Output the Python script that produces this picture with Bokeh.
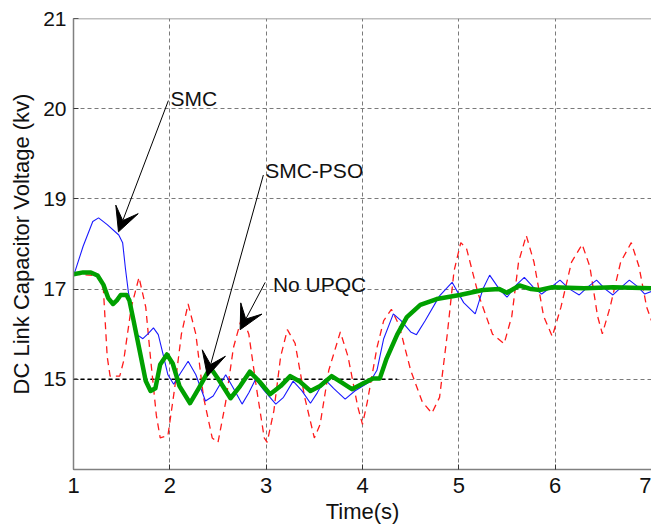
from bokeh.plotting import figure
from bokeh.models import (FixedTicker, Span, Arrow, VeeHead, ColumnDataSource, Range1d)
from bokeh.core.properties import value
from bokeh.embed import file_html
from bokeh.resources import INLINE

# ---- data: DC link capacitor voltage (kV) against time (s) ----
t_no_upqc = [1.0, 1.25, 1.31, 1.35, 1.38, 1.48, 1.52, 1.60, 1.68, 1.75, 1.80, 1.86, 1.90, 1.98,
             2.05, 2.12, 2.19, 2.27, 2.35, 2.44, 2.50, 2.58, 2.66, 2.75, 2.82, 2.90, 2.98, 3.01,
             3.08, 3.15, 3.22, 3.30, 3.40, 3.50, 3.56, 3.65, 3.77, 3.85, 3.95, 4.00, 4.05, 4.15,
             4.22, 4.30, 4.38, 4.50, 4.62, 4.72, 4.80, 4.88, 4.95, 5.02, 5.08, 5.20, 5.35, 5.47,
             5.55, 5.62, 5.70, 5.78, 5.88, 5.97, 6.06, 6.17, 6.28, 6.36, 6.44, 6.49, 6.57, 6.68,
             6.79, 6.87, 6.95, 7.0]
v_no_upqc = [17.33, 17.30, 17.00, 15.50, 15.07, 15.07, 15.40, 16.60, 17.26, 16.60, 15.46, 14.20, 13.70, 13.75,
             14.80, 16.00, 16.67, 16.00, 14.60, 13.70, 13.60, 14.50, 15.70, 16.40, 16.00, 14.80, 13.70, 13.60,
             14.30, 15.50, 16.10, 15.80, 14.60, 13.70, 14.00, 15.20, 16.05, 15.50, 14.40, 14.00, 14.50, 15.70,
             16.30, 16.55, 16.20, 15.20, 14.50, 14.25, 14.60, 16.00, 17.40, 18.03, 17.90, 16.90, 16.00, 15.79,
             16.40, 17.60, 18.19, 17.60, 16.40, 15.95, 16.60, 17.60, 17.99, 17.50, 16.40, 16.01, 16.60, 17.60,
             18.03, 17.50, 16.60, 16.30]

t_smc = [1.0, 1.02, 1.10, 1.20, 1.26, 1.35, 1.47, 1.51, 1.54, 1.57, 1.62, 1.66, 1.72, 1.77, 1.83,
         1.88, 1.93, 1.98, 2.04, 2.10, 2.19, 2.27, 2.37, 2.45, 2.58, 2.66, 2.75, 2.82, 2.89, 2.98,
         3.10, 3.18, 3.28, 3.37, 3.46, 3.53, 3.61, 3.70, 3.82, 3.92, 4.08, 4.15, 4.22, 4.32, 4.40,
         4.50, 4.56, 4.65, 4.80, 4.93, 5.05, 5.17, 5.25, 5.32, 5.42, 5.50, 5.60, 5.68, 5.77, 5.86,
         5.96, 6.05, 6.15, 6.25, 6.34, 6.43, 6.52, 6.60, 6.69, 6.77, 6.86, 6.93, 7.0]
v_smc = [17.30, 17.42, 17.95, 18.50, 18.58, 18.43, 18.20, 18.03, 17.44, 16.93, 16.43, 15.99, 15.90, 16.00, 16.14,
         15.99, 15.55, 15.10, 14.89, 15.10, 15.40, 15.10, 14.52, 14.63, 15.10, 14.80, 14.45, 14.70, 15.00, 14.75,
         14.45, 14.60, 14.96, 14.75, 14.47, 14.70, 15.00, 14.80, 14.56, 14.74, 14.95, 15.20, 15.90, 16.45, 16.30,
         16.05, 15.99, 16.30, 16.85, 17.15, 16.70, 16.45, 17.00, 17.31, 17.00, 16.82, 17.10, 17.26, 17.05, 16.89,
         17.05, 17.20, 17.00, 16.87, 17.05, 17.20, 17.00, 16.87, 17.05, 17.20, 17.05, 16.89, 16.95]

t_smc_pso = [1.0, 1.10, 1.18, 1.25, 1.31, 1.36, 1.41, 1.45, 1.49, 1.55, 1.58, 1.62, 1.69, 1.75, 1.80,
             1.85, 1.90, 1.97, 2.03, 2.10, 2.21, 2.30, 2.42, 2.52, 2.63, 2.73, 2.83, 2.93, 3.04, 3.15,
             3.25, 3.35, 3.46, 3.56, 3.68, 3.79, 3.89, 4.00, 4.11, 4.18, 4.25, 4.36, 4.46, 4.60, 4.77,
             5.01, 5.25, 5.42, 5.50, 5.63, 5.75, 5.84, 5.97, 6.30, 6.60, 7.0]
v_smc_pso = [17.33, 17.37, 17.37, 17.30, 17.10, 16.80, 16.67, 16.75, 16.87, 16.87, 16.75, 16.34, 15.60, 14.96, 14.74,
             14.80, 15.33, 15.55, 15.35, 14.85, 14.47, 14.80, 15.26, 14.95, 14.58, 14.85, 15.17, 14.95, 14.67, 14.85,
             15.07, 14.95, 14.74, 14.85, 15.07, 14.92, 14.78, 14.90, 15.02, 15.02, 15.46, 15.99, 16.38, 16.65, 16.78,
             16.87, 16.98, 17.00, 16.92, 17.08, 17.00, 16.98, 17.04, 17.02, 17.04, 17.02]

# axis ticks (grid spaced two kV apart; the upper two carry their own labels)
x_ticks = [1, 2, 3, 4, 5, 6, 7]
y_ticks = [15, 17, 19, 21, 23]
y_tick_labels = {15: "15", 17: "17", 19: "19", 21: "20", 23: "21"}

# reference level drawn as a dark dashed segment
ref_level = 15.0
ref_t = [1.0, 4.36]

FONT = "Liberation Sans"
TEXT = "#111111"
AXIS_GREY = "#808080"

p = figure(width=651, height=528, output_backend="svg", toolbar_location=None,
           x_range=Range1d(1, 7), y_range=Range1d(13, 23),
           min_border_left=73, min_border_right=0, min_border_top=18, min_border_bottom=59)
p.outline_line_color = None
p.background_fill_color = "white"
p.border_fill_color = "white"

# grid
for ax_grid in (p.xgrid, p.ygrid):
    ax_grid.grid_line_color = "#7a7a7a"
    ax_grid.grid_line_dash = "4 3"
    ax_grid.grid_line_width = 1

p.xaxis.ticker = FixedTicker(ticks=x_ticks)
p.yaxis.ticker = FixedTicker(ticks=y_ticks)
p.yaxis.major_label_overrides = y_tick_labels

for ax in (p.xaxis, p.yaxis):
    ax.axis_line_color = AXIS_GREY
    ax.axis_line_width = 1.5
    ax.major_tick_in = 5
    ax.major_tick_out = 0
    ax.major_tick_line_color = "#333333"
    ax.minor_tick_line_color = None
    ax.major_label_text_font = FONT
    ax.major_label_text_font_size = "21px"
    ax.major_label_text_color = TEXT
    ax.axis_label_text_font = FONT
    ax.axis_label_text_font_size = "22px"
    ax.axis_label_text_font_style = "normal"
    ax.axis_label_text_color = TEXT

p.xaxis.major_label_text_font_size = "22px"
p.xaxis.axis_label = "Time(s)"
p.yaxis.axis_label = "DC Link Capacitor Voltage (kv)"
p.xaxis.major_label_standoff = 8
p.yaxis.major_label_standoff = 7
p.xaxis.axis_label_standoff = 3
p.yaxis.axis_label_standoff = 6

# top edge of the axes box
p.add_layout(Span(location=23, dimension="width", line_color=AXIS_GREY, line_width=1.5))

# reference level
p.line(ref_t, [ref_level, ref_level], line_color="black", line_width=1.5, line_dash="4 3")

src_smc = ColumnDataSource(dict(t=t_smc, v=v_smc))
src_pso = ColumnDataSource(dict(t=t_smc_pso, v=v_smc_pso))
src_no = ColumnDataSource(dict(t=t_no_upqc, v=v_no_upqc))

p.line("t", "v", source=src_no, line_color="#ff1a1a", line_width=1.3, line_dash="7 5")
p.line("t", "v", source=src_smc, line_color="#1a1aff", line_width=1.1)
p.line("t", "v", source=src_pso, line_color="#00a000", line_width=4.5, line_join="round")

# annotation labels with arrows
labels = ["SMC", "SMC-PSO", "No UPQC"]
label_x = [2.006, 2.99, 3.07]
label_y = [21.22, 19.64, 17.11]
arrow_from = [(1.985, 21.18), (2.971, 19.53), (2.99, 17.15)]
arrow_to = [(1.467, 18.27), (2.39, 15.07), (2.73, 16.10)]

p.text(x=label_x, y=label_y, text=labels, text_font=value(FONT), text_font_size="21px",
       text_color=TEXT, text_align="left", text_baseline="alphabetic")

for (xs, ys), (xe, ye) in zip(arrow_from, arrow_to):
    p.add_layout(Arrow(end=VeeHead(size=24, fill_color="black", line_color="black", line_width=1),
                       x_start=xs, y_start=ys, x_end=xe, y_end=ye,
                       line_color="black", line_width=1))

open("out.html", "w").write(file_html(p, INLINE))
